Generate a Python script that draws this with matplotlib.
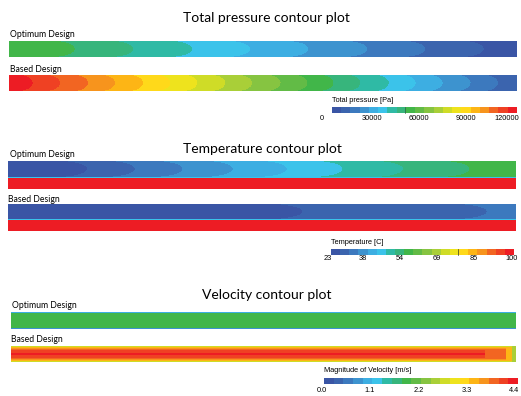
import numpy as np
import matplotlib.pyplot as plt
from matplotlib.colors import ListedColormap

# banded palette, 20 levels from low (blue) to high (red)
band_colors = ['#3a55a5', '#3b64ae', '#3c79be', '#3d93cf', '#3daee2',
               '#3bc3ea', '#2fbaa5', '#37b57c', '#41b649', '#62bb46',
               '#86c441', '#a9cf38', '#cfdc27', '#eee31d', '#ffd91a',
               '#fdb515', '#f7941d', '#f26522', '#ef4123', '#ed1c24']
cmap = ListedColormap(band_colors)

# total pressure [Pa]
p_lo, p_hi = 0, 120000
p_tick_labels = ['0', '30000', '60000', '90000', '120000']
p_opt_inlet = 52000
p_opt_steps = [0.130, 0.245, 0.361, 0.475, 0.590, 0.706, 0.820, 0.935]  # x/L where centreline drops a level
p_base_inlet = 117000
p_base_steps = [0.047, 0.101, 0.156, 0.209, 0.264, 0.318, 0.371, 0.426, 0.479,
                0.535, 0.588, 0.639, 0.692, 0.748, 0.801, 0.854, 0.909, 0.963]

# temperature [C]
t_lo, t_hi = 23, 100
t_tick_labels = ['23', '38', '54', '69', '85', '100']
t_opt_cold_inlet = 24
t_opt_steps = [0.156, 0.250, 0.344, 0.443, 0.549, 0.659, 0.778, 0.909]
t_base_cold_inlet = 24
t_base_steps = [0.580, 0.943]
t_hot = 100
t_film = [45, 62]  # thin mixing layer between the two streams

# velocity magnitude [m/s]
v_lo, v_hi = 0.0, 4.4
v_tick_labels = ['0.0', '1.1', '2.2', '3.3', '4.4']
v_opt_profile = [0.9, 1.9, 1.9, 1.9, 1.9, 1.9, 1.9, 1.9, 1.9, 1.9, 1.9, 1.9, 1.9, 1.9, 1.9, 0.7]
v_base_profile = [2.8, 3.4, 3.6, 3.8, 4.0, 4.1, 4.1, 4.2, 4.2, 4.1, 4.1, 4.0, 3.8, 3.6, 3.4, 2.8]
v_base_outlet_x = [0.94, 0.98, 0.993]
v_base_outlet_cap = [3.8, 3.4, 2.6]


def level(v, lo, hi):
    v = np.asarray(v, dtype=float)
    return np.clip(np.floor((v - lo) / (hi - lo) * 20), 0, 19).astype(int)


def bullet(steps, start, sign, bulge, ncol, nrow):
    # bands bounded by rounded iso-lines, leading at the centre of the stream
    s = (np.arange(ncol) + 0.5) / ncol
    r = (np.arange(nrow) + 0.5) / nrow * 2 - 1
    u = s[None, :] + bulge * (1 - np.sqrt(1 - r[:, None] ** 2))
    return start + sign * np.searchsorted(np.asarray(steps), u)


fig = plt.figure(figsize=(5.21, 3.96), dpi=100)
ax = fig.add_axes([0, 0, 1, 1])


def show(idx, x0, x1, y0, y1):
    ax.imshow(idx, cmap=cmap, vmin=-0.5, vmax=19.5, extent=(x0, x1, y1, y0),
              aspect='auto', interpolation='nearest', zorder=2)


def colorbar(x0, x1, y0, y1, label, label_y, labels, tick_x, tick_y):
    show(np.arange(20)[None, :], x0, x1, y0, y1)
    ax.text(x0, label_y, label, fontsize=5.3, family='Liberation Sans',
            ha='left', va='center')
    for t, xt in zip(labels, tick_x):
        # a label that would run off the figure is pinned to its right edge
        ha = 'right' if xt > 518 else 'center'
        ax.text(xt, tick_y, t, fontsize=5.3, family='Liberation Sans',
                ha=ha, va='center')


title_kw = dict(fontsize=10, family='Lato', ha='center', va='baseline')
lab_kw = dict(fontsize=6.2, family='Lato', ha='left', va='baseline')

# ---- total pressure ----
ax.text(266, 21.7, 'Total pressure contour plot', **title_kw)
ax.text(10, 36.7, 'Optimum Design', **lab_kw)
show(bullet(p_opt_steps, level(p_opt_inlet, p_lo, p_hi), -1, 0.045, 1016, 64),
     9, 517, 40.7, 56.7)
ax.text(10, 71.7, 'Based Design', **lab_kw)
show(bullet(p_base_steps, level(p_base_inlet, p_lo, p_hi), -1, 0.028, 1016, 64),
     9, 517, 75, 90.7)
colorbar(331.7, 516, 107.3, 113.3, 'Total pressure [Pa]', 101,
         p_tick_labels, [322, 371.5, 418.7, 466, 519.5], 119)
ax.plot([405, 405], [107.3, 113.3], color='#2e5e3a', lw=0.5, zorder=3)

# ---- temperature ----
ax.text(262.5, 152.7, 'Temperature contour plot', **title_kw)
ax.text(10, 157.3, 'Optimum Design', **lab_kw)
show(bullet(t_opt_steps, level(t_opt_cold_inlet, t_lo, t_hi), 1, 0.06, 1016, 64),
     8.3, 516, 161.7, 177.3)
show(level(t_film, t_lo, t_hi)[:, None], 8.3, 516, 177.3, 179.0)
show(level([t_hot], t_lo, t_hi)[:, None], 8.3, 516, 179.0, 189.3)
ax.text(8.3, 201.7, 'Based Design', **lab_kw)
show(bullet(t_base_steps, level(t_base_cold_inlet, t_lo, t_hi), 1, 0.07, 1016, 64),
     8.3, 516, 204, 219)
show(level(t_film, t_lo, t_hi)[:, None], 8.3, 516, 219, 220.7)
show(level([t_hot], t_lo, t_hi)[:, None], 8.3, 516, 220.7, 231)
colorbar(331, 513.3, 249, 254.7, 'Temperature [C]', 243,
         t_tick_labels, [328, 363, 400, 437, 473.7, 512], 258.5)
ax.plot([458, 458], [249, 254.7], color='#3a3a20', lw=0.5, zorder=3)

# ---- velocity ----
ax.text(267, 299, 'Velocity contour plot', **title_kw)
ax.text(11.7, 307.7, 'Optimum Design', **lab_kw)
ncol = 1010
v_opt = np.repeat(np.asarray(v_opt_profile)[:, None], ncol, axis=1)
show(level(v_opt, v_lo, v_hi), 11, 516, 312.3, 329)
ax.text(11, 341.7, 'Based Design', **lab_kw)
s = (np.arange(ncol) + 0.5) / ncol
cap = np.concatenate([[np.inf], v_base_outlet_cap])[np.searchsorted(v_base_outlet_x, s, side='right')]
v_base = np.minimum(np.asarray(v_base_profile)[:, None], cap[None, :])
show(level(v_base, v_lo, v_hi), 11, 516, 345.7, 361.7)
colorbar(324, 517.3, 378.3, 384.3, 'Magnitude of Velocity [m/s]', 370.5,
         v_tick_labels, [322, 370, 418.7, 466.7, 514], 390)

ax.set_xlim(0, 521)
ax.set_ylim(396, 0)
ax.axis('off')
fig.savefig('out.png', dpi=100)
